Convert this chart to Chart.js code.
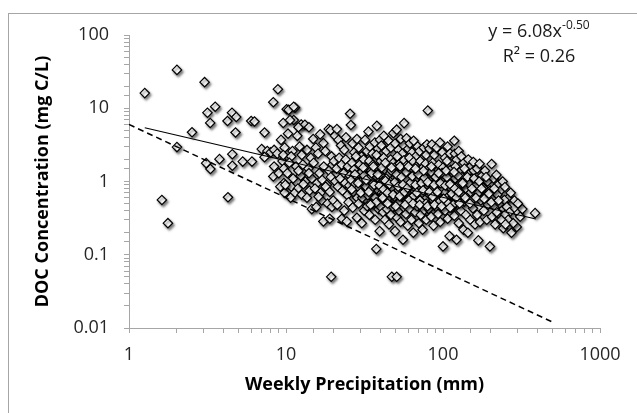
<!DOCTYPE html>
<html>
<head>
<meta charset="utf-8">
<script src="https://cdn.jsdelivr.net/npm/chart.js@4.4.1/dist/chart.umd.min.js"></script>
<style>
  html, body { margin: 0; padding: 0; background: #ffffff; }
  #wrap { width: 637px; height: 413px; }
</style>
</head>
<body>
<div id="wrap"><canvas id="c" width="637" height="413"></canvas></div>
<script>
// ---- Data: [weekly precipitation (mm), DOC concentration (mg C/L)] ----
const precipUnder10 = [[1.26,16.1],[2.02,33.4],[3.03,22.7],[8.88,18.2],[8.3,12.1],[3.54,10.5],[3.16,8.7],[4.53,8.7],[4.82,7.6],[4.24,6.7],[3.29,6.3],[6.0,6.7],[6.3,6.6],[2.52,4.7],[4.77,4.66],[7.3,4.66],[9.3,3.7],[2.02,2.95],[7.0,2.77],[7.6,2.6],[8.0,2.5],[8.4,2.7],[8.8,2.4],[3.77,2.02],[3.1,1.78],[3.3,1.48],[4.55,2.36],[4.55,1.64],[5.3,1.87],[6.07,1.87],[7.3,2.15],[8.4,1.6],[8.3,1.17],[1.62,0.56],[4.27,0.61],[1.77,0.27],[9.6,6.3],[9.8,2.9],[9.5,1.9],[9.0,1.3],[9.7,0.95],[9.2,0.85],[9.7,1.5],[9.6,2.3],[9.8,0.7]];
const precip10to20 = [[10.1,9.7],[11.4,10.2],[10.4,9.5],[11.2,10.5],[11.2,6.9],[10.6,6.9],[12.5,6.0],[13.2,5.95],[12.0,5.5],[14.0,5.5],[10.3,4.5],[11.8,4.2],[13.6,2.7],[14.9,3.8],[17.3,3.34],[18.7,5.2],[19.2,5.0],[16.5,4.4],[15.5,2.9],[12.2,3.0],[11.0,2.6],[10.8,2.2],[12.6,2.3],[14.4,2.1],[16.0,2.4],[17.8,2.6],[19.5,2.2],[10.5,1.8],[11.6,1.6],[12.8,1.7],[13.9,1.5],[15.0,1.8],[16.3,1.3],[17.4,1.6],[18.8,1.4],[19.8,1.7],[10.2,1.3],[11.1,1.1],[12.4,1.2],[13.3,1.0],[14.6,1.1],[15.8,0.95],[17.0,1.05],[18.2,0.9],[19.3,1.15],[10.8,0.85],[11.9,0.8],[12.9,0.92],[14.1,0.75],[15.3,0.8],[16.6,0.7],[17.9,0.85],[19.0,0.72],[9.9,0.9],[11.3,0.69],[12.6,0.66],[13.6,0.6],[14.6,0.42],[15.6,0.45],[16.9,0.55],[17.3,0.285],[19.0,0.31],[18.4,0.5],[19.6,0.45],[10.7,0.6],[16.1,0.62],[14.0,1.3],[12.0,1.4]];
const precip20to40 = [[20.5,4.2],[21.6,3.7],[21.1,5.2],[22.4,3.1],[23.5,2.7],[24.1,4.0],[25.6,8.4],[25.9,5.9],[26.5,3.3],[27.2,2.5],[28.3,3.8],[29.0,2.9],[30.3,2.2],[31.9,3.7],[32.8,2.6],[33.5,4.8],[34.2,3.0],[35.6,2.4],[36.8,3.4],[37.9,5.75],[38.5,2.8],[39.7,3.7],
[20.2,1.9],[21.0,1.5],[21.8,2.1],[22.6,1.7],[23.3,1.3],[24.0,2.0],[24.8,1.6],[25.5,1.2],[26.3,1.8],[27.1,1.45],[27.9,2.2],[28.7,1.1],[29.5,1.7],[30.4,1.35],[31.2,2.0],[32.1,1.55],[33.0,1.15],[33.9,1.9],[34.8,1.4],[35.8,1.7],[36.7,1.05],[37.7,2.3],[38.7,1.5],[39.6,1.25],
[20.6,1.0],[21.4,0.85],[22.1,1.1],[22.9,0.75],[23.8,0.95],[24.6,0.65],[25.3,0.88],[26.0,1.05],[26.8,0.72],[27.6,0.92],[28.4,0.6],[29.2,0.82],[30.0,1.0],[30.8,0.68],[31.7,0.9],[32.6,0.55],[33.5,0.78],[34.4,0.98],[35.3,0.62],[36.2,0.85],[37.2,0.7],[38.2,0.95],[39.2,0.58],
[20.0,0.55],[21.2,0.48],[22.7,0.31],[23.5,0.4],[24.4,0.285],[25.0,0.52],[26.6,0.44],[28.3,0.32],[29.0,0.5],[30.4,0.27],[31.5,0.4],[32.9,0.46],[34.0,0.35],[35.5,0.5],[37.0,0.3],[37.6,0.12],[38.8,0.42],[39.5,0.21],[19.4,0.05],
[30.6,0.6],[31.4,1.2],[32.3,0.85],[33.2,0.65],[34.1,1.1],[35.0,0.8],[35.9,0.95],[36.9,0.6],[37.9,1.15],[38.9,0.75],[39.9,1.05]];
const precip40to80 = [[40.5,3.1],[42.0,4.2],[43.5,2.6],[45.0,3.6],[46.5,2.9],[48.3,4.57],[49.5,3.3],[50.7,5.1],[52.0,2.7],[53.8,3.8],[55.0,2.4],[56.5,6.27],[58.6,3.9],[60.0,2.8],[61.5,3.3],[63.5,2.5],[65.0,3.6],[67.0,2.2],[69.0,3.0],[71.0,2.6],[73.5,2.0],[75.5,2.9],[78.0,2.3],[80.0,9.3],[79.0,3.2],
[40.2,1.9],[41.0,1.4],[41.9,2.1],[42.8,1.2],[43.7,1.7],[44.6,1.05],[45.5,1.55],[46.4,2.0],[47.3,1.3],[48.2,1.8],[49.2,1.1],[50.1,1.6],[51.1,2.2],[52.1,1.25],[53.1,1.75],[54.2,1.0],[55.3,1.45],[56.4,1.95],[57.5,1.15],[58.7,1.65],[59.9,1.3],[61.1,2.1],[62.3,1.05],[63.5,1.5],[64.8,1.85],[66.1,1.2],[67.4,1.6],[68.8,1.0],[70.2,1.4],[71.6,1.9],[73.0,1.1],[74.5,1.55],[76.0,1.25],[77.5,1.75],[79.1,1.05],
[40.0,0.9],[40.8,0.7],[41.6,0.55],[42.4,0.82],[43.2,0.62],[44.1,0.95],[44.9,0.75],[45.8,0.5],[46.7,0.88],[47.6,0.68],[48.5,0.58],[49.5,0.8],[50.4,0.93],[51.4,0.65],[52.4,0.52],[53.4,0.85],[54.5,0.72],[55.5,0.6],[56.6,0.97],[57.7,0.78],[58.9,0.55],[60.0,0.87],[61.2,0.66],[62.4,0.74],[63.6,0.92],[64.9,0.58],[66.1,0.81],[67.4,0.69],[68.8,0.53],[70.1,0.9],[71.5,0.76],[72.9,0.63],[74.3,0.95],[75.8,0.57],[77.3,0.83],[78.8,0.7],
[40.3,1.2],[41.3,1.0],[42.6,1.45],[43.8,0.88],[45.2,1.25],[46.0,0.78],[47.9,1.05],[49.0,1.35],[50.8,0.72],[52.6,1.1],[54.0,1.3],[55.9,0.83],[57.1,1.22],[58.2,0.92],[60.5,1.08],[62.0,1.35],[63.9,0.7],[65.6,1.05],[67.0,1.28],[68.2,0.77],[70.6,1.15],[72.3,0.88],[74.0,1.3],[76.5,0.98],[78.4,1.18],
[42.1,0.68],[43.5,1.1],[44.8,0.6],[46.2,0.98],[47.6,0.82],[49.0,0.62],[50.5,1.02],[52.0,0.76],[53.6,0.95],[55.2,0.66],[56.9,0.86],[58.6,1.06],[60.4,0.72],[62.2,0.6],[64.1,0.96],[66.0,0.74],[68.0,1.12],[70.0,0.62],[72.1,0.8],[74.3,0.68],[76.5,0.86],[78.8,0.6],
[40.1,0.45],[41.5,0.38],[42.7,0.3],[44.0,0.42],[45.3,0.26],[46.6,0.35],[47.2,0.05],[48.0,0.45],[49.5,0.21],[50.7,0.05],[51.0,0.32],[52.3,0.4],[53.7,0.28],[55.6,0.16],[56.4,0.44],[58.0,0.36],[59.6,0.25],[61.3,0.42],[63.0,0.3],[64.7,0.2],[66.5,0.38],[68.3,0.46],[70.2,0.27],[72.1,0.35],[74.1,0.22],[76.1,0.41],[78.2,0.3]];
const precip80to160 = [[82,2.8],[85,3.2],[88,2.3],[91,2.9],[95.7,3.4],[99,2.5],[103,2.1],[107,3.0],[111,2.4],[118,3.6],[119,2.39],[122,1.98],[126,2.6],[131,2.2],[136,1.8],[140,1.37],[145,2.0],[150,1.6],[156,1.85],
[81,1.5],[83,1.2],[86,1.8],[89,1.05],[92,1.4],[94,1.7],[97,1.15],[100,1.55],[103,1.25],[106,1.9],[109,1.1],[112,1.45],[116,1.2],[120,1.6],[124,1.0],[128,1.35],[132,1.15],[137,1.5],[141,1.05],[146,1.25],[151,1.1],[157,1.4],
[80.5,0.85],[82.5,0.65],[84.5,0.95],[86.8,0.55],[88.9,0.78],[91.2,0.6],[93.5,0.9],[95.9,0.7],[98.3,0.52],[100.8,0.82],[103.4,0.62],[106.0,0.93],[108.7,0.72],[111.5,0.56],[114.3,0.85],[117.2,0.66],[120.2,0.98],[123.3,0.75],[126.4,0.58],[129.6,0.88],[132.9,0.68],[136.3,0.53],[139.8,0.8],[143.4,0.63],[147.0,0.92],[150.8,0.71],[154.6,0.57],[158.5,0.84],
[81.2,1.08],[83.6,0.76],[86.1,1.25],[88.7,0.68],[91.4,0.86],[94.1,1.02],[97.0,0.76],[99.9,1.1],[102.9,0.7],[106.0,0.6],[109.2,1.02],[112.5,0.8],[115.9,0.62],[119.4,1.1],[123.0,0.85],
[81,0.42],[84,0.33],[87,0.25],[90,0.45],[93,0.36],[96,0.28],[100,0.13],[103,0.4],[107,0.31],[110,0.18],[114,0.44],[118,0.34],[122,0.16],[126,0.27],[130,0.4],[135,0.22],[140,0.35],[144,0.2],[149,0.3],[155,0.43]];
const precipOver160 = [[165,1.5],[171,1.75],[178,1.2],[185,1.4],[192,1.0],[204,1.73],[210,1.1],[219,1.23],[225,0.9],[232,0.75],[240,1.0],[248,0.84],[260,0.59],[270,0.7],[285,0.55],
[163,0.9],[168,0.7],[174,0.55],[180,0.82],[186,0.62],[193,0.48],[200,0.75],[207,0.58],[214,0.45],[222,0.66],[230,0.5],[238,0.4],[246,0.56],[255,0.45],[265,0.38],
[160,0.26],[168,0.157],[165,0.35],[172,0.28],[182,0.4],[190,0.3],[199,0.13],[205,0.33],[215,0.26],[228,0.36],[242,0.23],[248,0.35],[273,0.2],[295,0.24],[302,0.37],[386,0.37],[260,0.3],[280,0.27],[235,0.3],[250,0.26],[320,0.42],[300,0.5],[310,0.33]];
const precipCoreExtra = [[26.2,0.78],[27.5,1.25],[28.8,0.95],[29.9,0.7],[31.0,1.55],[32.4,1.05],[33.7,0.72],[35.1,1.3],[36.4,0.9],[37.5,0.52],[38.4,1.25],[39.4,0.88],[40.7,1.55],[41.8,0.78],[43.0,1.02],[44.3,0.7],[45.6,0.92],[46.9,1.4],[48.1,0.66],[49.4,0.98],[50.6,1.25],[51.8,0.85],[53.0,0.63],[54.3,1.15],[55.6,0.9],[56.9,0.72],[58.2,1.35],[59.5,0.82],[60.9,0.56],[62.3,0.97],[63.7,1.18],[65.2,0.64],[66.7,0.9],[68.2,0.7],[69.8,1.25],[71.4,0.55],[73.0,0.95],[74.7,0.76],[76.4,1.12],[78.1,0.5],[80.0,0.98],[81.9,0.72],[83.8,1.35],[85.8,0.62],[87.8,0.9],[89.9,1.15],[92.0,0.72],[94.2,0.52],[96.4,0.95],[98.7,1.3],[101.0,0.58],[103.4,0.88],[105.8,1.15],[108.3,0.5],[110.9,0.92],[113.5,0.68],[116.2,0.48],[118.9,0.8],[121.7,0.6],[124.6,1.2],[127.5,0.5],[130.5,0.95],[34.5,0.48],[36.0,1.6],[41.2,0.6],[42.9,1.8],[44.4,0.5],[47.0,1.55],[50.0,0.46],[53.3,1.6],[57.3,0.48],[60.2,1.6],[64.4,0.5],[66.8,1.5],[71.0,0.48],[75.2,1.4],[79.6,0.46],[84.3,1.6],[88.3,0.48],[93.8,1.3],[97.8,0.46],[104.5,1.4],[111.0,0.44],[117.6,1.35],[126.0,0.72],[133.5,0.95],[138.6,0.6],[143.0,1.15],[148.5,0.5],[153.0,0.8],[158.0,1.1],[162.0,0.6],[170.0,1.0],[176.0,0.8],[183.0,0.58],[188.0,1.15],[196.0,0.68],[203.0,0.52],[212.0,0.8],[220.0,0.38],[226.0,0.55]];

// Power-law trendline (y = 6.08 x^-0.50) end points, and dashed reference line end points
const trendX = [1.26, 390];
const trendY = [5.42, 0.308];
const refX = [1, 505];
const refY = [6, 0.0119];

const xTickLabels = [1, 10, 100, 1000];
const yTickLabels = [0.01, 0.1, 1, 10, 100];

// ---- Build chart ----
const allPoints = [].concat(precipUnder10, precip10to20, precip20to40, precip40to80, precip80to160, precipOver160, precipCoreExtra)
  .map(p => ({x: p[0], y: p[1]}));
const toXY = (xs, ys) => xs.map((x, i) => ({x: x, y: ys[i]}));

const isLabelled = (v, list) => list.some(t => Math.abs(Math.log10(v) - Math.log10(t)) < 1e-6);
const FONT = "'Open Sans'";

const shadowPlugin = {
  id: 'markerShadow',
  beforeDatasetDraw(chart, args) {
    if (args.index !== 0) return;
    const ctx = chart.ctx;
    ctx.save();
    ctx.shadowColor = 'rgba(0,0,0,0.5)';
    ctx.shadowBlur = 2.5;
    ctx.shadowOffsetX = 1.5;
    ctx.shadowOffsetY = 2;
  },
  afterDatasetDraw(chart, args) {
    if (args.index !== 0) return;
    chart.ctx.restore();
  }
};

const framePlugin = {
  id: 'frame',
  beforeDraw(chart) {
    const ctx = chart.ctx;
    ctx.save();
    ctx.fillStyle = '#ffffff';
    ctx.fillRect(0, 0, chart.width, chart.height);
    ctx.strokeStyle = '#a6a6a6';
    ctx.lineWidth = 1;
    ctx.strokeRect(8.5, 13.5, 700, 500);
    ctx.restore();
  },
  afterDraw(chart) {
    const ctx = chart.ctx;
    ctx.save();
    ctx.fillStyle = '#1a1a1a';
    ctx.textBaseline = 'alphabetic';
    const main = 'y = 6.08x', sup = '-0.50';
    ctx.font = '18px ' + FONT;
    const wMain = ctx.measureText(main).width;
    ctx.font = '12px ' + FONT;
    const wSup = ctx.measureText(sup).width;
    const cx = 539;
    const x0 = cx - (wMain + wSup) / 2;
    ctx.font = '18px ' + FONT;
    ctx.textAlign = 'left';
    ctx.fillText(main, x0, 37);
    ctx.font = '12px ' + FONT;
    ctx.fillText(sup, x0 + wMain, 29);
    ctx.font = '18px ' + FONT;
    ctx.textAlign = 'center';
    ctx.fillText('R\u00B2 = 0.26', cx, 62);
    ctx.restore();
  }
};

new Chart(document.getElementById('c'), {
  data: {
    datasets: [
      {
        type: 'scatter',
        data: allPoints,
        order: 2,
        pointStyle: 'rectRot',
        pointRadius: 4.7,
        pointBackgroundColor: '#ffffff',
        pointBorderColor: '#000000',
        pointBorderWidth: 1.2
      },
      {
        type: 'line',
        data: toXY(trendX, trendY),
        order: 1,
        borderColor: '#000000',
        borderWidth: 1.2,
        pointRadius: 0,
        fill: false
      },
      {
        type: 'line',
        data: toXY(refX, refY),
        order: 1,
        borderColor: '#000000',
        borderWidth: 1.5,
        borderDash: [6, 4],
        pointRadius: 0,
        fill: false
      }
    ]
  },
  options: {
    responsive: false,
    animation: false,
    devicePixelRatio: 1,
    layout: { padding: { top: 35, right: 37, bottom: 0, left: 0 } },
    plugins: { legend: { display: false }, tooltip: { enabled: false } },
    scales: {
      x: {
        type: 'logarithmic',
        position: 'bottom',
        min: 1, max: 1000,
        afterFit(s) { s.height = 85; },
        border: { color: '#a6a6a6', width: 1 },
        grid: { drawOnChartArea: false, drawTicks: true, tickLength: 5, color: '#a6a6a6' },
        ticks: {
          autoSkip: false, maxRotation: 0, padding: 11,
          color: '#262626', font: { family: FONT, size: 18 },
          callback(v) { return isLabelled(v, xTickLabels) ? String(Number(v.toPrecision(3))) : ''; }
        },
        title: {
          display: true, text: 'Weekly Precipitation (mm)',
          color: '#000000', font: { family: FONT, size: 18, weight: 'bold' },
          padding: { top: 0, bottom: 17 }
        }
      },
      y: {
        type: 'logarithmic',
        position: 'left',
        min: 0.01, max: 100,
        afterFit(s) { s.width = 129; },
        border: { color: '#a6a6a6', width: 1 },
        grid: { drawOnChartArea: false, drawTicks: true, tickLength: 5, color: '#a6a6a6' },
        ticks: {
          autoSkip: false, padding: 15,
          color: '#262626', font: { family: FONT, size: 18 },
          callback(v) { return isLabelled(v, yTickLabels) ? String(Number(v.toPrecision(3))) : ''; }
        },
        title: {
          display: true, text: 'DOC Concentration (mg C/L)',
          color: '#000000', font: { family: FONT, size: 18, weight: 'bold' },
          padding: { top: 32, bottom: 0 }
        }
      }
    }
  },
  plugins: [shadowPlugin, framePlugin]
});
</script>
</body>
</html>
